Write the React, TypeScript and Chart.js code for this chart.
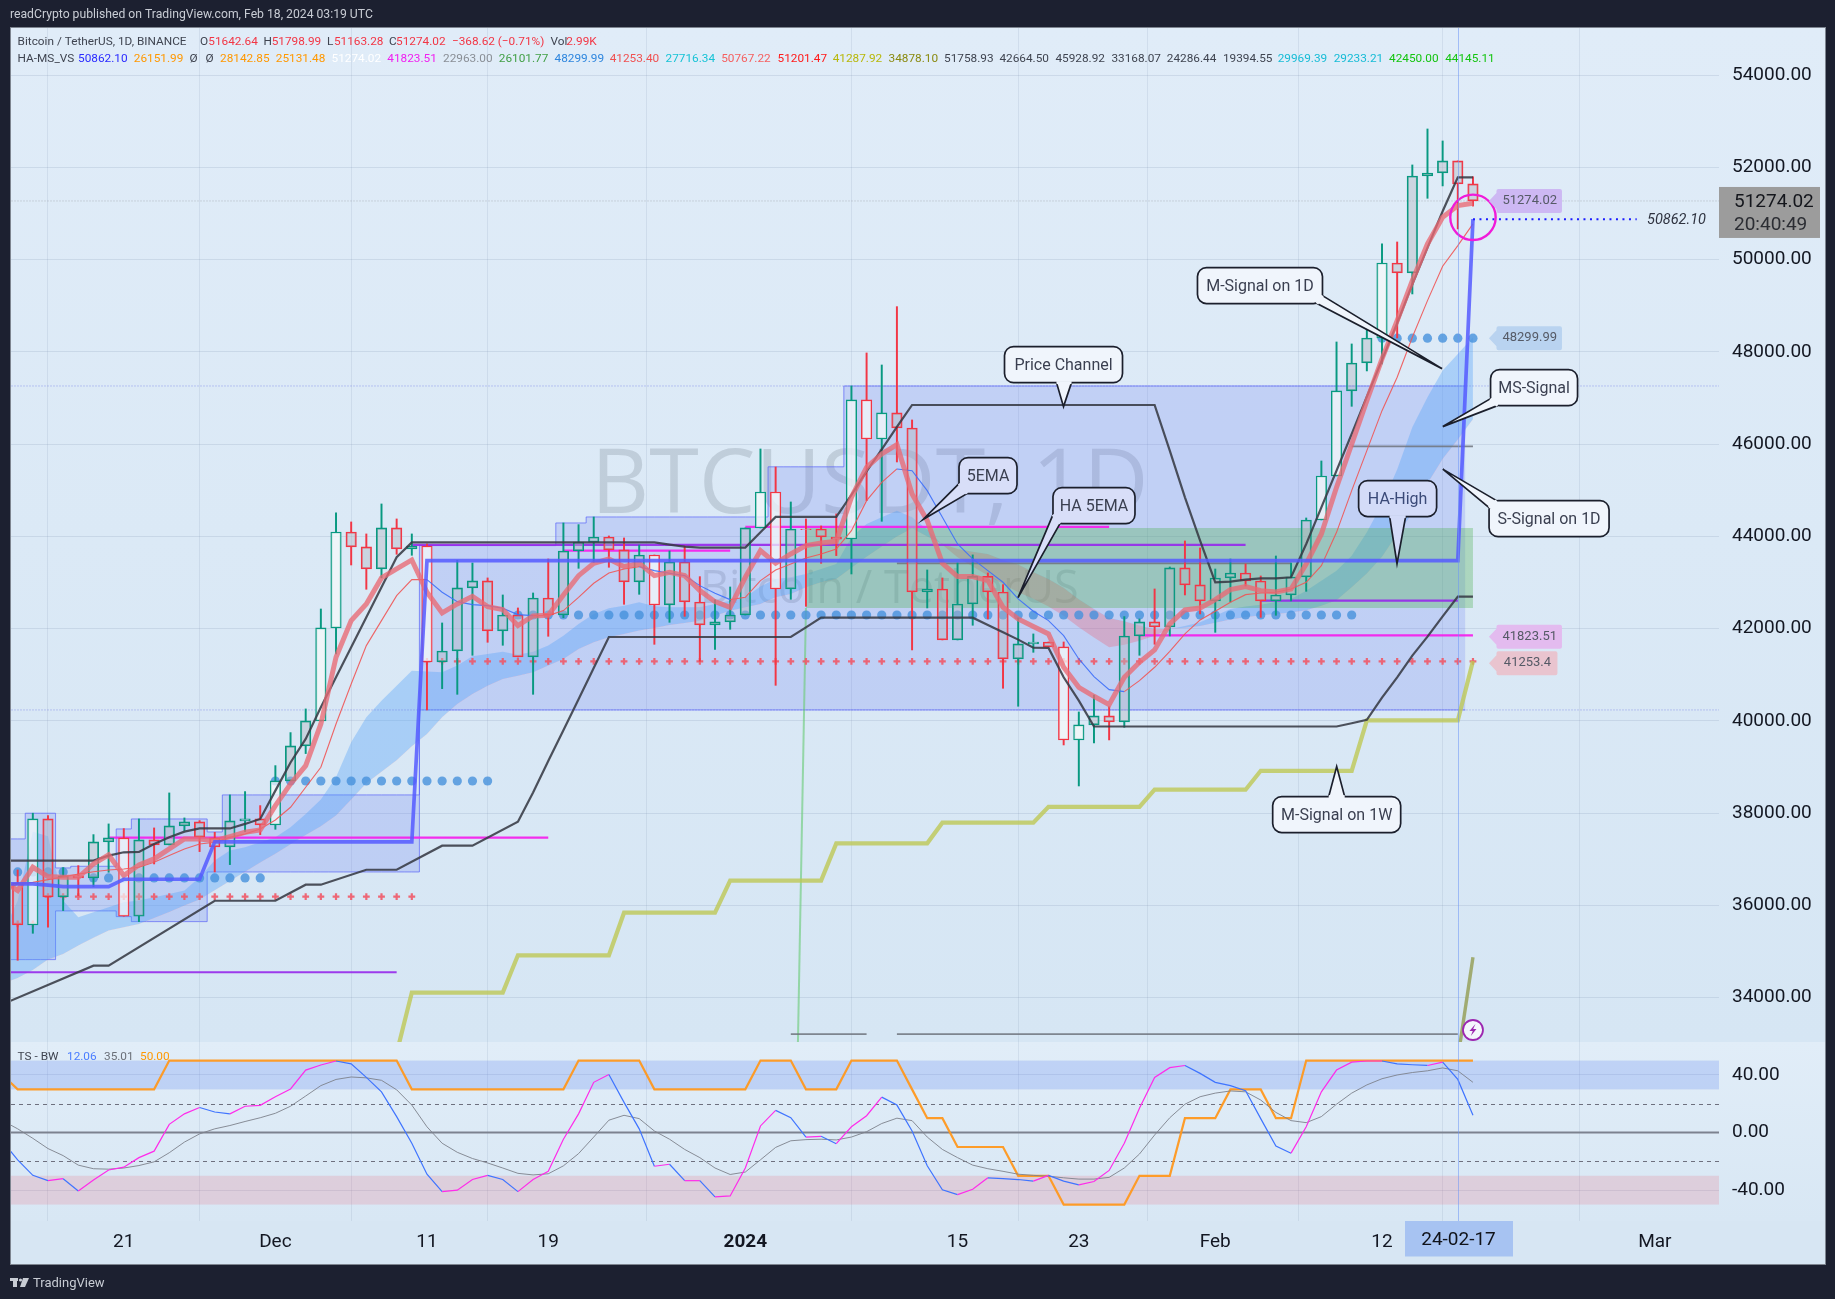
import React, { useEffect, useRef } from "react";
import { Chart, registerables } from "chart.js";

Chart.register(...registerables);

// Day index: 0 = 2023-11-21, 41 = 2024-01-01, 72 = 2024-02-01, 89 = 2024-02-18
const firstCandleDay = -7;
const opens = [36489,35578,37876,36185,36640,36597,37378,37464,35766,37421,37312,37724,37811,37464,37269,37833,37876,37746,38700,39459,40000,42017,44098,43773,43296,44185,43729,43794,41279,41518,42884,43036,41951,42298,41388,42667,42298,43686,43874,43989,43708,43014,43599,42515,43447,42580,42082,42147,42298,44185,44965,42862,44163,44163,43989,43946,46960,46114,46678,46352,42797,42862,41757,42537,43137,42797,41345,41670,41713,41605,39589,39914,40109,39979,41843,42147,42039,43318,42949,42602,43100,43209,43035,42602,42732,43122,44358,45312,47155,47762,48304,49930,49713,51816,51881,52142,51643];
const highs = [36770,38000,37948,36821,36864,37536,37768,37667,37876,37681,38440,37898,37840,37587,38397,38469,38165,39032,39748,40261,42428,44510,44315,44055,44705,44380,44055,43838,42125,43484,43426,43101,42732,42450,42775,43512,44293,44257,44423,44011,43968,43816,43599,43686,43794,43129,42624,42905,44185,45897,45507,44748,44380,44228,44488,47263,47979,47718,48983,46526,43274,43101,43426,43600,43209,42956,42234,41887,41713,41713,40196,40564,40311,42263,42212,42862,43339,43903,43751,43295,43512,43404,43144,43577,43425,44401,45637,48217,48174,48608,50342,50385,52055,52835,52575,52142,51799];
const lows = [34812,35397,35528,35889,36214,36409,36720,35766,35650,36900,37312,37623,37168,36727,36886,37602,37536,37652,38700,39293,40000,41453,43382,42855,43101,43614,43592,40239,40701,40578,41424,41706,41641,41388,40578,41836,42240,43310,43440,43332,42530,42746,41662,42139,42269,41294,41554,41988,42298,44185,40773,42638,42486,43418,43585,43187,44777,44329,45615,41540,42450,41757,41757,42075,42212,40709,40319,41489,41605,39480,38591,39524,39589,39863,41424,41663,41843,42732,42320,41922,42580,42927,42247,42291,42602,42811,44358,45312,46822,47589,47740,48304,49258,51332,51600,50667,51163];
const closes = [35578,37876,36185,36640,36597,37378,37464,35766,37421,37312,37724,37811,37479,37269,37833,37876,37746,38700,39459,40001,42017,44098,43773,43296,44185,43729,43794,41279,41518,42884,43036,41951,42298,41388,42667,42298,43686,43881,43989,43708,43014,43599,42515,43447,42580,42082,42147,42298,44185,44965,42862,44163,44148,43989,43939,46960,46114,46678,46352,42797,42862,41757,42537,43137,42797,41345,41670,41713,41605,39589,39914,40109,39979,41843,42147,42039,43318,42949,42602,43100,43209,43035,42602,42732,43122,44358,45312,47155,47762,48304,49930,49713,51816,51881,52142,51643,51274];
const lightBodyDays = [-6,0,10,13,14,20,35,42,43,48,49,50,62,63,79,80,83];

const firstLineDay = -8;
const ema5 = [36540,36322,36828,36626,36611,36611,36900,37096,36648,36879,37009,37226,37442,37442,37406,37493,37587,37638,38165,38635,39032,39935,41381,42175,42537,43101,43296,43491,42790,42342,42537,42703,42479,42414,42067,42277,42290,42730,43151,43419,43512,43346,43419,43151,43223,43151,42826,42587,42465,43115,43693,43419,43621,43801,43859,43895,44849,45500,45789,45991,44922,44343,43419,43130,43130,43043,42465,42212,42046,41887,41164,40730,40535,40355,40947,41273,41540,42104,42407,42450,42630,42847,42912,42826,42797,42862,43404,44054,45066,46000,46945,47849,48680,49547,50342,50920,51173,51224];
const haEma5 = [36300,36467,36500,36560,36620,36680,36730,36770,36792,36828,36937,37081,37226,37334,37370,37479,37551,37659,37854,38129,38563,38996,39935,40802,41634,42175,42718,43064,43064,42790,42587,42522,42500,42443,42306,42284,42284,42393,42681,42985,43209,43296,43346,43260,43202,43151,42934,42768,42631,42681,43043,43274,43404,43534,43621,43729,44126,44777,45174,45464,45427,44994,44416,43837,43513,43260,43007,42646,42378,42176,41851,41345,40962,40680,40637,40875,41164,41511,41887,42190,42378,42573,42739,42775,42790,42862,43006,43368,44090,44994,45861,46728,47451,48318,49113,49858,50306,50776];

const mSignalDays = [-8,-2,-1,0,1,2,3,4,5,7,8,9,10,11,12,13,14,15,16,17,18,19,35,36,37,38,41,42,43,47,48,49,50,51,52,68,69,70,71,72,73,74,75,76,77,78,79,80,81,82,83,84,85,86,87,88,89];
const mSignalValues = [36973,36973,37080,37153,37160,37334,37479,37600,37670,37670,37768,37876,38490,39100,39610,40296,40947,41597,42248,42898,43549,43870,43870,43825,43780,43758,43758,44090,44423,44423,44900,45413,45890,46374,46851,46851,45861,44849,43910,43006,43021,43064,43093,43093,43115,43837,44632,45427,46222,47032,47827,48622,49468,50262,51050,51787,51787];
const sSignalDays = [-8,-2,-1,6,10,12,13,16,18,21,23,26,27,28,29,30,31,32,44,45,46,56,57,58,59,60,61,62,63,64,80,81,82,83,84,85,86,87,88,89];
const sSignalValues = [33860,34696,34696,36102,36102,36450,36450,36775,36775,37296,37296,37815,38450,39130,39800,40470,41150,41821,41821,42030,42240,42240,42082,41923,41764,41590,41583,40947,40441,39880,39880,39950,40025,40506,40946,41416,41828,42269,42696,42696];
const haHighDays = [-8,-6,-5,-4,-1,0,5,6,19,20,88,89];
const haHighValues = [36467,36467,36440,36409,36409,36568,36568,37378,37378,43476,43476,50880];
const mSignal1wDays = [18,19,25,26,32,33,39,40,46,47,53,54,60,61,67,68,74,75,81,82,88,89];
const mSignal1wValues = [32800,34111,34111,34920,34920,35843,35843,36540,36540,37347,37347,37795,37795,38137,38137,38510,38510,38920,38920,40012,40012,41300];
const darkOliveDays = [88,89];
const darkOliveValues = [32680,34880];
const greenRampDays = [44,45];
const greenRampValues = [24650,42450];
const forecastDays = [89,99.8];
const forecastValues = [50880,50880];

const channelHigh = [37443,37443,38000,38000,36814,36850,36850,36850,37659,37876,37876,37876,37876,37876,37594,38397,38397,38397,38397,38397,38397,38397,38397,38397,38397,38397,38397,38397,43802,43802,43802,43802,43802,43802,43802,43802,43802,44293,44293,44423,44423,44423,44423,44423,44423,44423,44423,44423,44423,44423,44423,45510,45510,45510,45510,45510,47263,47263,47263,47263,47263,47263,47263,47263,47263,47263,47263,47263,47263,47263,47263,47263,47263,47263,47263,47263,47263,47263,47263,47263,47263,47263,47263,47263,47263,47263,47263,47263,47263,47263,47263,47263,47263,47263,47263,47263,47263];
const channelLow = [34826,34826,34826,34826,35882,35882,35882,35882,35758,35650,35650,35650,35650,35650,36727,36727,36727,36727,36727,36727,36727,36727,36727,36727,36727,36727,36727,36727,40239,40239,40239,40239,40239,40239,40239,40239,40239,40239,40239,40239,40239,40239,40239,40239,40239,40239,40239,40239,40239,40239,40239,40239,40239,40239,40239,40239,40239,40239,40239,40239,40239,40239,40239,40239,40239,40239,40239,40239,40239,40239,40239,40239,40239,40239,40239,40239,40239,40239,40239,40239,40239,40239,40239,40239,40239,40239,40239,40239,40239,40239,40239,40239,40239,40239,40239,40239,40239];
const channelEndDay = 88.5;

const msFast = [35400,36100,37600,37500,36100,35744,35853,35961,36069,36106,36178,36250,36322,36612,36973,37190,37262,37370,37479,37696,37985,38300,38779,39538,40080,40441,40766,41091,41070,41055,41200,41402,41453,41503,41438,41503,41634,41850,42103,42320,42443,42500,42573,42486,42465,42465,42465,42537,42609,42681,42913,43079,43115,43187,43296,43404,43982,44271,44416,44560,44416,44150,43820,43549,43350,43152,42970,42790,42650,42480,42280,42031,41810,41598,41650,41742,41850,41995,42060,42140,42280,42428,42480,42522,42580,42645,42826,43042,43259,43584,44090,44705,45450,46367,47018,47596,47957,48318];
const msSlow = [34300,34428,34600,34830,34950,35130,35300,35460,35530,35596,35730,35860,36000,36130,36330,36530,36730,36930,37124,37330,37530,37720,37950,38300,38650,38900,39150,39450,39718,40080,40369,40586,40766,40911,40983,41055,41200,41344,41561,41706,41814,41886,41959,42016,42081,42125,42175,42284,42392,42465,42537,42681,42754,42898,43007,43079,43320,43560,43780,44000,44180,44000,43840,43730,43670,43621,43490,43390,43230,43080,42890,42640,42430,42230,42160,42070,41990,42000,42020,42060,42130,42200,42250,42290,42320,42350,42400,42500,42620,42900,43200,43560,44050,44500,45150,45680,46100,46540];
const greenBandDays = [45,89];
const greenBandTop = [44185,44185];
const greenBandBottom = [42450,42450];

const magentaStart = [-1,29,41,67];
const magentaEnd = [28,40,65,89];
const magentaLevel = [37470,43693,44206,41855];
const purpleStart = [-8,19,75];
const purpleEnd = [18,74,88];
const purpleLevel = [34552,43816,42609];
const grayStart = [51,81,44,51];
const grayEnd = [77,89,49,88];
const grayLevel = [43415,45955,33211,33211];

const dotStart = [-7,-2,10,26,83];
const dotEnd = [-4,9,24,81,89];
const dotLevel = [36727,36597,38699,42298,48299];
const crossStart = [-7,-5,20];
const crossEnd = [-6,19,89];
const crossLevel = [35600,36190,41290];

const circleDay = [89];
const circlePrice = [50920];
const fullSpanDays = [-8,106];
const dottedLevels = [47263,40239];
const lastPriceLevel = 51274;

// Oscillator pane
const tsBwDays = [-8,-7,2,3,18,19,29,30,34,35,41,42,44,45,47,48,51,52,53,54,55,58,59,61,62,66,67,69,70,72,73,75,76,77,78,89];
const tsBwValues = [40,30,30,50,50,30,30,50,50,30,30,50,50,30,30,50,50,30,10,10,-10,-10,-30,-30,-50,-50,-30,-30,10,10,30,30,10,10,50,50];
const oscFast = [-6,-19,-29.7,-33.4,-32,-40.6,-33,-26,-24,-17.4,-12.9,5.7,13,17.4,14.3,13,18.3,18.9,24.9,30.3,43.4,46.9,49.7,47.7,38.3,28.3,11.1,-7.4,-28.9,-41,-40,-32.6,-29.7,-32.6,-41,-32.6,-26.9,-4.6,13,34.9,40.3,21,2.6,-23.4,-22,-33.4,-33.4,-44.6,-44,-24.6,4.6,15.4,10.3,-3.1,-2.6,-7.7,4,11.7,24.6,19.1,1.1,-23,-39.7,-43.1,-39.4,-31.4,-32,-32.6,-33.7,-29.7,-33.7,-36.3,-34,-26.3,-7.4,16.9,38.3,45.1,46.6,41.1,34.9,32.6,29.1,9.7,-9.4,-14.3,4,28.3,43.4,48.9,49.7,49.7,47.7,47.1,46.6,48.9,36.9,12];
const oscSlow = [8.3,2.6,-4,-11.1,-16,-22.6,-25.1,-25.4,-24.6,-22.9,-20.3,-14,-6.6,-0.9,2.6,4.9,7.7,10.3,13.4,18.3,25.4,32.6,36.9,38.6,38,36.3,29.7,19.1,4,-7.4,-13.7,-18,-21.1,-24.6,-28.3,-29.4,-28.6,-23.1,-14.6,-3.1,8.6,12,9.7,1.1,-4.6,-11.7,-17.4,-24.6,-29.1,-27.4,-18.9,-10.3,-5.7,-4.9,-4.6,-5.1,-3.1,0.6,6.3,10,8.3,-3.1,-11.7,-17.4,-22.6,-25.1,-26.9,-28.9,-29.7,-30.3,-31.4,-32.3,-32.3,-31.1,-24.6,-14.9,-1.7,10.3,19.7,24.9,27.4,28.9,28.3,22.6,14,8.3,6.9,11.1,19.7,27.4,33.1,37.4,40,41.7,42.9,44.9,42.9,34.9];

// Axes
const priceTicks = [34000,36000,38000,40000,42000,44000,46000,48000,50000,52000,54000];
const oscTicks = [-40,0,40];
const timeTickDays = [0,10,20,28,41,55,63,72,83,91,101];
const timeTickLabels = ["21","Dec","11","19","2024","15","23","Feb","12","20","Mar"];

// Price tags right of the last candle
const tagLevels = [51274.02,48299.99,41823.51,41253.4];
const tagTexts = ["51274.02","48299.99","41823.51","41253.4"];
const tagFills = ["#cdb8f3","#b9d3f0","#e3bbef","#e9c4cf"];

// Callouts: box centre and arrow tip in chart units
const callouts = [
  { t: "Price Channel", d: 61.99, p: 47726, w: 118, td: 61.99, tp: 46815, a: [-7, 18], b: [8, 18], f: "#f0f5fc", c: "#3a3f50" },
  { t: "5EMA", d: 57.01, p: 45319, w: 58, td: 52.72, tp: 44366, a: [-29, 8], b: [-21, 18], f: "#d8def8", c: "#3a3f50" },
  { t: "HA 5EMA", d: 64, p: 44669, w: 82, td: 58.99, tp: 42674, a: [-41, 9], b: [-34, 18], f: "#d8def8", c: "#3a3f50" },
  { t: "M-Signal on 1D", d: 74.95, p: 49439, w: 125, td: 86.96, tp: 47639, a: [57, 18], b: [62.5, 10], f: "#f0f5fc", c: "#3a3f50" },
  { t: "MS-Signal", d: 93.03, p: 47227, w: 87, td: 87.01, tp: 46382, a: [-43.5, 11], b: [-36.5, 18], f: "#f0f5fc", c: "#3a3f50" },
  { t: "S-Signal on 1D", d: 94.02, p: 44387, w: 120, td: 87.01, tp: 45460, a: [-60, -11], b: [-52.5, -18], f: "#f0f5fc", c: "#3a3f50" },
  { t: "HA-High", d: 84.03, p: 44821, w: 78, td: 83.99, tp: 43412, a: [-8, 18], b: [8, 18], f: "#d3dbf8", c: "#3b4a78" },
  { t: "M-Signal on 1W", d: 80.01, p: 37970, w: 128, td: 80.01, tp: 39011, a: [-8, -18], b: [8, -18], f: "#f0f5fc", c: "#3a3f50" },
];

const RED = "#f23645";
const GREEN = "#089981";
const DARK = "#3f4450";
const LEGEND1: [number, string, string][] = [
  [17.6,"Bitcoin / TetherUS, 1D, BINANCE",DARK],[200.1,"O",DARK],[208.3,"51642.64",RED],[263.5,"H",DARK],[271.7,"51798.99",RED],[326.9,"L",DARK],[333.9,"51163.28",RED],[389.1,"C",DARK],[396.1,"51274.02",RED],[451.9,"−368.62 (−0.71%)",RED],[550.5,"Vol",DARK],[566.3,"2.99K",RED],
];
const LEGEND2: [number, string, string][] = [
  [17.6,"HA-MS_VS",DARK],[78,"50862.10","#2a2aff"],[133.8,"26151.99","#ff9800"],[189.6,"Ø",DARK],[205.4,"Ø",DARK],[220,"28142.85","#ff9800"],[275.8,"25131.48","#ff9800"],[331.6,"51274.02","#ffffff"],[387.3,"41823.51","#f020f0"],[443,"22963.00","#8a8f96"],[498.8,"26101.77","#43a047"],[554.6,"48299.99","#2e86de"],[609.7,"41253.40","#f05050"],[665.5,"27716.34","#17c3d6"],[721.2,"50767.22","#f56060"],[777.6,"51201.47","#ff1a1a"],[832.7,"41287.92","#b8b80a"],[888.5,"34878.10","#8a8a10"],[944,"51758.93",DARK],[999.4,"42664.50",DARK],[1055.4,"45928.92",DARK],[1111.4,"33168.07",DARK],[1166.8,"24286.44",DARK],[1222.9,"19394.55",DARK],[1277.7,"29969.39","#17bcd6"],[1333.7,"29233.21","#17bcd6"],[1389.1,"42450.00","#13c40f"],[1445.2,"44145.11","#13c40f"],
];
const LEGEND3: [number, string, string][] = [[17.6,"TS - BW",DARK],[67,"12.06","#4a7dff"],[104,"35.01","#6b7078"],[140,"50.00","#ff9800"]];

const pts = (first: number, values: number[]) => values.map((y, i) => ({ x: first + i, y }));
const brk = (days: number[], values: number[]) => days.map((x, i) => ({ x, y: values[i] }));
const segs = (s: number[], e: number[], v: number[]) =>
  s.flatMap((x, i) => [{ x, y: v[i] }, { x: e[i], y: v[i] }, { x: e[i], y: null as any }]);
const daily = (s: number[], e: number[], v: number[]) =>
  s.flatMap((a, i) => { const o: any[] = []; for (let d = a; d <= e[i]; d++) o.push({ x: d, y: v[i] }); return o; });
const withEnd = (arr: number[]) => { const p = pts(firstLineDay, arr); p.push({ x: channelEndDay, y: arr[arr.length - 1] }); return p; };

const line = (extra: any) => ({ type: "line", pointRadius: 0, tension: 0, fill: false, yAxisID: "y", xAxisID: "x", ...extra });

function roundPath(ctx: CanvasRenderingContext2D, x: number, y: number, w: number, h: number, r: number) {
  ctx.beginPath();
  ctx.roundRect(x, y, w, h, r);
}

const chromePlugin = {
  id: "chrome",
  beforeDraw(chart: any) {
    const { ctx } = chart;
    const W = chart.width, H = chart.height;
    ctx.save();
    ctx.fillStyle = "#1c2030";
    ctx.fillRect(0, 0, W, H);
    const area = chart.chartArea;
    const oscTop = chart.scales.osc.top;
    const g1 = ctx.createLinearGradient(0, area.top, 0, oscTop);
    g1.addColorStop(0, "#e0ecf8");
    g1.addColorStop(1, "#d6e6f4");
    ctx.fillStyle = g1;
    ctx.fillRect(11, area.top, 1814, oscTop - area.top);
    const g2 = ctx.createLinearGradient(0, oscTop, 0, area.bottom);
    g2.addColorStop(0, "#e1edf8");
    g2.addColorStop(1, "#d8e7f4");
    ctx.fillStyle = g2;
    ctx.fillRect(11, oscTop, 1814, area.bottom - oscTop);
    ctx.fillStyle = "#d7e6f3";
    ctx.fillRect(11, area.bottom, 1814, 43);
    ctx.strokeStyle = "#7e8590";
    ctx.lineWidth = 1;
    ctx.strokeRect(10.5, area.top - 0.5, 1815, area.bottom + 43 - area.top + 1);
    ctx.restore();
  },
  beforeDatasetsDraw(chart: any) {
    const { ctx } = chart;
    const area = chart.chartArea;
    const osc = chart.scales.osc;
    ctx.save();
    ctx.textBaseline = "middle";
    ctx.textAlign = "left";
    ctx.fillStyle = "rgba(105,115,130,0.24)";
    ctx.font = '90px "Open Sans"';
    ctx.fillText("BTCUSDT, 1D", 591, 487);
    ctx.font = '45px "Open Sans"';
    ctx.fillText("Bitcoin / TetherUS", 700, 590);
    ctx.fillStyle = "rgba(90,130,240,0.25)";
    ctx.fillRect(area.left, osc.getPixelForValue(50), area.width, osc.getPixelForValue(30) - osc.getPixelForValue(50));
    ctx.fillStyle = "rgba(240,90,110,0.18)";
    ctx.fillRect(area.left, osc.getPixelForValue(-30), area.width, osc.getPixelForValue(-50) - osc.getPixelForValue(-30));
    ctx.strokeStyle = "rgba(90,90,105,0.85)";
    ctx.lineWidth = 1;
    ctx.setLineDash([4, 4]);
    [20, -20].forEach((v) => {
      const py = Math.round(osc.getPixelForValue(v)) + 0.5;
      ctx.beginPath(); ctx.moveTo(area.left, py); ctx.lineTo(area.right, py); ctx.stroke();
    });
    ctx.setLineDash([]);
    ctx.strokeStyle = "rgba(120,125,138,0.95)";
    ctx.lineWidth = 2;
    const z = osc.getPixelForValue(0);
    ctx.beginPath(); ctx.moveTo(area.left, z); ctx.lineTo(area.right, z); ctx.stroke();
    ctx.restore();
  },
  afterDatasetsDraw(chart: any) {
    const { ctx } = chart;
    const area = chart.chartArea;
    const y = chart.scales.y, osc = chart.scales.osc, x = chart.scales.x;
    ctx.save();
    // crosshair
    ctx.strokeStyle = "rgba(110,150,245,0.55)";
    ctx.lineWidth = 1;
    const cx = Math.round(x.getPixelForValue(88)) + 0.5;
    ctx.beginPath(); ctx.moveTo(cx, area.top); ctx.lineTo(cx, area.bottom); ctx.stroke();

    // callouts
    callouts.forEach((c) => {
      const px = x.getPixelForValue(c.d), py = y.getPixelForValue(c.p);
      const tx = x.getPixelForValue(c.td), ty = y.getPixelForValue(c.tp);
      const h = 36;
      ctx.fillStyle = c.f;
      ctx.strokeStyle = "#1b1f2c";
      ctx.lineWidth = 1.7;
      roundPath(ctx, px - c.w / 2, py - h / 2, c.w, h, 9);
      ctx.fill(); ctx.stroke();
      ctx.beginPath();
      ctx.moveTo(px + c.a[0], py + c.a[1]);
      ctx.lineTo(tx, ty);
      ctx.lineTo(px + c.b[0], py + c.b[1]);
      ctx.fill(); ctx.stroke();
      ctx.strokeStyle = c.f;
      ctx.lineWidth = 3;
      ctx.beginPath();
      ctx.moveTo(px + c.a[0], py + c.a[1]);
      ctx.lineTo(px + c.b[0], py + c.b[1]);
      ctx.stroke();
      ctx.fillStyle = c.c;
      ctx.font = '16px Roboto';
      ctx.textAlign = "center";
      ctx.textBaseline = "middle";
      ctx.fillText(c.t, px, py + 1);
    });

    // price tags
    tagLevels.forEach((v, i) => {
      const py = y.getPixelForValue(v);
      const left = x.getPixelForValue(90.55);
      const w = i === 3 ? 61 : 65.5;
      ctx.fillStyle = tagFills[i];
      ctx.beginPath();
      ctx.moveTo(left - 7.5, py);
      ctx.lineTo(left, py - 8);
      ctx.lineTo(left, py - 10);
      ctx.quadraticCurveTo(left, py - 12, left + 2, py - 12);
      ctx.lineTo(left + w - 2, py - 12);
      ctx.quadraticCurveTo(left + w, py - 12, left + w, py - 10);
      ctx.lineTo(left + w, py + 10);
      ctx.quadraticCurveTo(left + w, py + 12, left + w - 2, py + 12);
      ctx.lineTo(left + 2, py + 12);
      ctx.quadraticCurveTo(left, py + 12, left, py + 10);
      ctx.lineTo(left, py + 8);
      ctx.closePath();
      ctx.fill();
      ctx.fillStyle = "#555a66";
      ctx.font = '13px Roboto';
      ctx.textAlign = "center";
      ctx.textBaseline = "middle";
      ctx.fillText(tagTexts[i], left + w / 2 + 0.5, py);
    });

    // forecast label
    ctx.fillStyle = "#2f3340";
    ctx.font = 'italic 14.5px Roboto';
    ctx.textAlign = "left";
    ctx.textBaseline = "middle";
    ctx.fillText("50862.10", 1647, y.getPixelForValue(50880) + 1);

    // lightning marker
    const mx = x.getPixelForValue(89), my = y.getPixelForValue(33300);
    ctx.fillStyle = "#f4f7fc";
    ctx.strokeStyle = "#9c27b0";
    ctx.lineWidth = 1.8;
    ctx.beginPath(); ctx.arc(mx, my, 10, 0, Math.PI * 2); ctx.fill(); ctx.stroke();
    ctx.fillStyle = "#9c27b0";
    ctx.beginPath();
    ctx.moveTo(mx + 2.5, my - 6); ctx.lineTo(mx - 3.5, my + 1); ctx.lineTo(mx - 0.2, my + 1);
    ctx.lineTo(mx - 2.2, my + 6); ctx.lineTo(mx + 3.5, my - 1); ctx.lineTo(mx + 0.2, my - 1);
    ctx.closePath(); ctx.fill();

    // current price box
    ctx.fillStyle = "#9c9c9c";
    const py = y.getPixelForValue(lastPriceLevel);
    ctx.fillRect(1719, py - 14, 101, 51);
    ctx.fillStyle = "#14161c";
    ctx.font = '19px Roboto';
    ctx.textAlign = "left";
    ctx.fillText("51274.02", 1734, py + 1);
    ctx.fillStyle = "#2b2d33";
    ctx.fillText("20:40:49", 1734, py + 24);

    // crosshair date
    ctx.fillStyle = "#a7c3f2";
    ctx.fillRect(1405, area.bottom, 108, 35.5);
    ctx.fillStyle = "#10131a";
    ctx.font = '19px Roboto';
    ctx.textAlign = "center";
    ctx.fillText("24-02-17", cx, area.bottom + 19);

    // texts
    ctx.textAlign = "left";
    ctx.font = '12.2px Roboto';
    ctx.fillStyle = "#c8ccd4";
    ctx.fillText("readCrypto published on TradingView.com, Feb 18, 2024 03:19 UTC", 10, 15);
    ctx.font = '11.8px Roboto';
    LEGEND1.forEach(([lx, s, col]) => { ctx.fillStyle = col; ctx.fillText(s, lx, 42); });
    LEGEND2.forEach(([lx, s, col]) => { ctx.fillStyle = col; ctx.fillText(s, lx, 59); });
    LEGEND3.forEach(([lx, s, col]) => { ctx.fillStyle = col; ctx.fillText(s, lx, osc.top + 15); });

    // footer
    ctx.fillStyle = "#c8ccd4";
    ctx.fillRect(10, 1278, 8, 3);
    ctx.fillRect(13, 1278, 4, 9);
    ctx.beginPath(); ctx.arc(20.5, 1280, 1.6, 0, Math.PI * 2); ctx.fill();
    ctx.beginPath(); ctx.moveTo(23, 1278); ctx.lineTo(29, 1278); ctx.lineTo(25, 1287); ctx.lineTo(20, 1287); ctx.closePath(); ctx.fill();
    ctx.font = '13px Roboto';
    ctx.fillText("TradingView", 33, 1283.5);
    ctx.restore();
  },
};

export default function App() {
  const ref = useRef<HTMLCanvasElement | null>(null);
  useEffect(() => {
    document.body.style.margin = "0";
    document.body.style.background = "#1c2030";
    const days = opens.map((_, i) => firstCandleDay + i);
    const isUp = closes.map((c, i) => c >= opens[i]);
    const edge = isUp.map((u) => (u ? GREEN : RED));
    const body = days.map((d) => (lightBodyDays.includes(d) ? "rgba(245,250,250,0.72)" : "rgba(178,184,194,0.42)"));

    const chart = new Chart(ref.current as any, {
      type: "bar",
      data: {
        datasets: [
          line({ data: withEnd(channelHigh), stepped: "middle", borderColor: "rgba(90,100,250,0.7)", borderWidth: 1, order: 100,
            fill: { target: "+1", above: "rgba(100,120,240,0.22)", below: "rgba(100,120,240,0.22)" } }),
          line({ data: withEnd(channelLow), stepped: "middle", borderColor: "rgba(90,100,250,0.7)", borderWidth: 1, order: 100 }),
          line({ data: pts(firstLineDay, msFast), borderWidth: 0, borderColor: "transparent", order: 90,
            fill: { target: "+1", above: "rgba(80,160,250,0.36)", below: "rgba(240,90,110,0.3)" } }),
          line({ data: pts(firstLineDay, msSlow), borderWidth: 0, borderColor: "transparent", order: 90 }),
          line({ data: brk(greenBandDays, greenBandTop), borderWidth: 0, borderColor: "transparent", order: 85,
            fill: { target: "+1", above: "rgba(76,175,80,0.33)", below: "rgba(76,175,80,0.33)" } }),
          line({ data: brk(greenBandDays, greenBandBottom), borderWidth: 0, borderColor: "transparent", order: 85 }),
          line({ data: brk(greenRampDays, greenRampValues), borderColor: "rgba(110,205,125,0.65)", borderWidth: 2, order: 84 }),
          line({ data: brk(fullSpanDays, [dottedLevels[0], dottedLevels[0]]), borderColor: "rgba(90,100,230,0.6)", borderWidth: 1, borderDash: [1, 2], order: 83 }),
          line({ data: brk(fullSpanDays, [dottedLevels[1], dottedLevels[1]]), borderColor: "rgba(90,100,230,0.6)", borderWidth: 1, borderDash: [1, 2], order: 83 }),
          line({ data: brk(fullSpanDays, [lastPriceLevel, lastPriceLevel]), borderColor: "rgba(120,120,125,0.45)", borderWidth: 1, borderDash: [1, 2], order: 83 }),
          line({ data: segs(grayStart, grayEnd, grayLevel), borderColor: "rgba(110,115,125,0.85)", borderWidth: 1.8, order: 70 }),
          line({ data: segs(purpleStart, purpleEnd, purpleLevel), borderColor: "rgba(150,40,235,0.9)", borderWidth: 2.2, order: 69 }),
          line({ data: segs(magentaStart, magentaEnd, magentaLevel), borderColor: "rgba(245,30,235,0.92)", borderWidth: 2.2, order: 68 }),
          line({ data: daily(dotStart, dotEnd, dotLevel), showLine: false, pointRadius: 4.6, pointBackgroundColor: "rgba(70,145,220,0.8)", pointBorderWidth: 0, order: 62 }),
          line({ data: daily(crossStart, crossEnd, crossLevel), showLine: false, pointStyle: "cross", pointRadius: 3.4, pointBorderWidth: 2.2, pointBorderColor: "rgba(240,85,100,0.88)", order: 61 }),
          {
            type: "bar", grouped: false, order: 52, barThickness: 1.3, yAxisID: "y", xAxisID: "x",
            data: days.map((d, i) => ({ x: d, y: [lows[i], Math.min(opens[i], closes[i])] })),
            backgroundColor: edge, borderWidth: 0,
          } as any,
          {
            type: "bar", grouped: false, order: 51, barThickness: 1.3, yAxisID: "y", xAxisID: "x",
            data: days.map((d, i) => ({ x: d, y: [Math.max(opens[i], closes[i]), highs[i]] })),
            backgroundColor: edge, borderWidth: 0,
          } as any,
          {
            type: "bar", grouped: false, order: 50, barThickness: 10.5, yAxisID: "y", xAxisID: "x",
            data: days.map((d, i) => ({ x: d, y: [opens[i], closes[i]] })),
            backgroundColor: body, borderColor: edge, borderWidth: 1.3, borderSkipped: false,
          } as any,
          line({ data: brk(mSignal1wDays, mSignal1wValues), borderColor: "rgba(190,200,85,0.8)", borderWidth: 4.2, order: 40 }),
          line({ data: brk(darkOliveDays, darkOliveValues), borderColor: "rgba(150,160,90,0.85)", borderWidth: 3.4, order: 39 }),
          line({ data: brk(sSignalDays, sSignalValues), borderColor: "rgba(55,58,68,0.88)", borderWidth: 2.2, order: 30 }),
          line({ data: brk(mSignalDays, mSignalValues), borderColor: "rgba(55,58,68,0.88)", borderWidth: 2.2, order: 29 }),
          line({ data: pts(firstLineDay, haEma5), borderWidth: 1.1, borderColor: "rgba(240,85,85,0.9)", order: 28,
            segment: { borderColor: (c: any) => (c.p1.parsed.y < c.p0.parsed.y ? "rgba(60,110,250,0.9)" : "rgba(240,85,85,0.9)") } }),
          line({ data: pts(firstLineDay, ema5), borderColor: "rgba(233,105,115,0.78)", borderWidth: 5, borderJoinStyle: "miter", order: 25 }),
          line({ data: brk(haHighDays, haHighValues), borderColor: "rgba(85,90,255,0.85)", borderWidth: 3.7, order: 24 }),
          line({ data: brk(forecastDays, forecastValues), borderColor: "#1a1aff", borderWidth: 2, borderDash: [2, 4.5], order: 23 }),
          line({ data: brk(circleDay, circlePrice), showLine: false, pointRadius: 22.7, pointBackgroundColor: "transparent", pointBorderColor: "#f01bd9", pointBorderWidth: 2.4, order: 22, clip: false }),
          line({ data: brk(tsBwDays, tsBwValues), yAxisID: "osc", borderColor: "rgba(255,152,30,0.95)", borderWidth: 2.2, order: 12 }),
          line({ data: pts(firstLineDay, oscSlow), yAxisID: "osc", borderColor: "rgba(125,130,140,0.9)", borderWidth: 1, order: 11 }),
          line({ data: pts(firstLineDay, oscFast), yAxisID: "osc", borderWidth: 1.2, borderColor: "#ff2bea", order: 10,
            segment: { borderColor: (c: any) => (c.p1.parsed.y < c.p0.parsed.y ? "#3f74ff" : "#ff2bea") } }),
        ] as any,
      },
      options: {
        animation: false,
        responsive: false,
        devicePixelRatio: 1,
        layout: { autoPadding: false, padding: { left: 11, top: 28, right: 0, bottom: 0 } },
        plugins: { legend: { display: false }, tooltip: { enabled: false }, title: { display: false } },
        scales: {
          x: {
            type: "linear", min: -7.44, max: 105.23, offset: false,
            afterBuildTicks: (s: any) => { s.ticks = timeTickDays.map((value) => ({ value })); },
            afterFit: (s: any) => { s.height = 78; },
            grid: { color: "rgba(125,145,175,0.16)", drawTicks: false },
            border: { display: false },
            ticks: {
              autoSkip: false, maxRotation: 0, padding: 10, color: "#131722",
              callback: (v: any) => timeTickLabels[timeTickDays.indexOf(Number(v))],
              font: (c: any) => ({ family: "Roboto", size: 19, weight: c.tick && c.tick.value === 41 ? "bold" : "normal" }),
            },
          },
          y: {
            type: "linear", position: "right", stack: "right", stackWeight: 1014, min: 33040, max: 55024,
            afterBuildTicks: (s: any) => { s.ticks = priceTicks.map((value) => ({ value })); },
            afterFit: (s: any) => { s.width = 116; },
            grid: { color: "rgba(125,145,175,0.2)", drawTicks: false },
            border: { display: false },
            ticks: { autoSkip: false, padding: 13, color: "#131722", font: { family: "Roboto", size: 19 }, callback: (v: any) => Number(v).toFixed(2) },
          },
          osc: {
            type: "linear", position: "right", stack: "right", stackWeight: 179, min: -61.4, max: 62.9,
            afterBuildTicks: (s: any) => { s.ticks = oscTicks.map((value) => ({ value })); },
            afterFit: (s: any) => { s.width = 116; },
            grid: { color: "rgba(125,145,175,0.2)", drawTicks: false },
            border: { display: false },
            ticks: { autoSkip: false, padding: 13, color: "#131722", font: { family: "Roboto", size: 19 }, callback: (v: any) => Number(v).toFixed(2) },
          },
        },
      },
      plugins: [chromePlugin],
    } as any);
    return () => chart.destroy();
  }, []);
  return <canvas ref={ref} width={1835} height={1299} style={{ display: "block", position: "fixed", left: 0, top: 0 }} />;
}
